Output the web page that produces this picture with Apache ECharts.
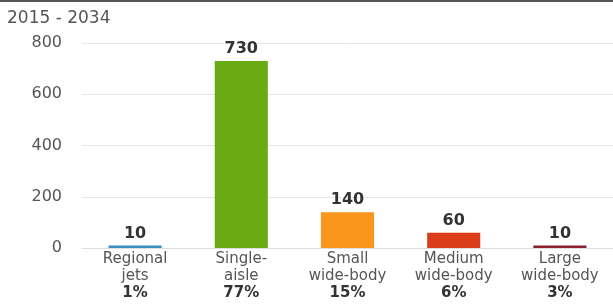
<!DOCTYPE html>
<html>
<head>
<meta charset="utf-8">
<script src="https://cdn.jsdelivr.net/npm/echarts@6/dist/echarts.min.js"></script>
<style>
  html, body { margin: 0; padding: 0; background: #fff; }
  #chart { width: 613px; height: 305px; }
</style>
</head>
<body>
<div id="chart"></div>
<script>
  // chart data
  const categories = ['Regional\njets', 'Single-\naisle', 'Small\nwide-body', 'Medium\nwide-body', 'Large\nwide-body']
  const shares = ['1%', '77%', '15%', '6%', '3%']
  const deliveries = [10, 730, 140, 60, 10]
  const barColors = ['#3d8fc1', '#6aaa12', '#f9961b', '#db3d1a', '#8a1f2e']
  const yTicks = [0, 200, 400, 600, 800]

  const font = 'DejaVu Sans'
  const chart = echarts.init(document.getElementById('chart'))
  chart.setOption({
    animation: false,
    title: {
      text: '2015 - 2034',
      left: 2,
      top: 5,
      textStyle: { color: '#555', fontSize: 17, fontWeight: 'normal', fontFamily: font }
    },
    graphic: [{
      type: 'rect',
      shape: { x: 0, y: 0, width: 613, height: 2 },
      style: { fill: '#555' }
    }],
    grid: { left: 82, right: -3, top: 43, bottom: 57 },
    xAxis: {
      type: 'category',
      data: categories.map((c, i) => c + '\n{p|' + shares[i] + '}'),
      axisTick: { show: false },
      axisLine: { lineStyle: { color: '#ddd' } },
      axisLabel: {
        color: '#555',
        fontSize: 15,
        lineHeight: 17,
        margin: 3,
        fontFamily: font,
        rich: { p: { fontWeight: 'bold', color: '#333', fontSize: 15, lineHeight: 17, fontFamily: font } }
      }
    },
    yAxis: {
      type: 'value',
      min: yTicks[0],
      max: yTicks[yTicks.length - 1],
      interval: 200,
      axisLine: { show: false },
      axisTick: { show: false },
      splitLine: { lineStyle: { color: '#e6e6e6' } },
      axisLabel: { color: '#555', fontSize: 16, margin: 20, fontFamily: font }
    },
    series: [{
      type: 'bar',
      barWidth: '50%',
      data: deliveries.map((v, i) => ({ value: v, itemStyle: { color: barColors[i] } })),
      label: {
        show: true,
        position: 'top',
        distance: 4,
        color: '#333',
        fontSize: 16,
        fontWeight: 'bold',
        fontFamily: font
      }
    }]
  })
</script>
</body>
</html>
